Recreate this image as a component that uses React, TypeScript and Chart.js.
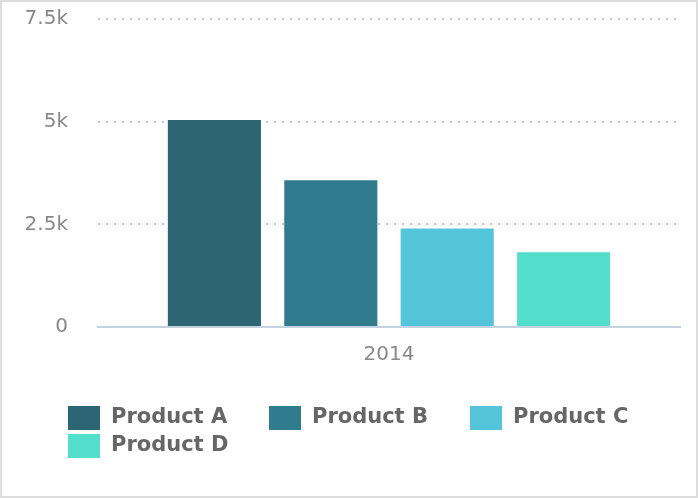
import React, { useEffect, useRef } from "react";
import { Chart, registerables } from "chart.js";

Chart.register(...registerables);

const categories = ["2014"];
const seriesNames = ["Product A", "Product B", "Product C", "Product D"];
const productA = [5040];
const productB = [3575];
const productC = [2400];
const productD = [1820];
const seriesColors = ["#2c6674", "#317b8f", "#54c4da", "#54decc"];
const yTickValues = [0, 2500, 5000, 7500];

const FONT = "'DejaVu Sans', Verdana, sans-serif";

const gridLegendPlugin = {
  id: "gridLegend",
  afterDraw(chart: any) {
    const ctx = chart.ctx;
    const datasets = chart.data.datasets;
    const startX = 66;
    const startY = 404;
    const colW = 201;
    const rowH = 28;
    const perRow = 3;
    ctx.save();
    ctx.font = `bold 21px ${FONT}`;
    ctx.textBaseline = "middle";
    ctx.textAlign = "left";
    datasets.forEach((ds: any, i: number) => {
      const col = i % perRow;
      const row = Math.floor(i / perRow);
      const x = startX + col * colW;
      const y = startY + row * rowH;
      ctx.fillStyle = ds.backgroundColor;
      ctx.fillRect(x, y, 32, 24);
      ctx.fillStyle = "#666666";
      ctx.fillText(ds.label, x + 43, y + 12);
    });
    ctx.restore();
  },
};

export default function App() {
  const canvasRef = useRef<HTMLCanvasElement | null>(null);

  useEffect(() => {
    const canvas = canvasRef.current;
    if (!canvas) return;
    const seriesValues = [productA, productB, productC, productD];
    const chart = new Chart(canvas, {
      type: "bar",
      data: {
        labels: categories,
        datasets: seriesNames.map((name, i) => ({
          label: name,
          data: seriesValues[i],
          backgroundColor: seriesColors[i],
          borderWidth: 0,
          barPercentage: 0.8,
          categoryPercentage: 0.8,
        })),
      },
      options: {
        animation: false,
        responsive: false,
        maintainAspectRatio: false,
        layout: {
          padding: { top: 17, left: 0, right: 16, bottom: 129 },
        },
        plugins: {
          legend: { display: false },
          tooltip: { enabled: false },
        },
        scales: {
          x: {
            grid: { display: false, drawTicks: false },
            border: { display: true, color: "#c3d3e1", width: 2 },
            ticks: {
              color: "#888888",
              font: { family: FONT, size: 20 },
              padding: 16,
            },
            afterFit: (s: any) => {
              s.height = 40;
              s.paddingLeft = 0;
              s.paddingRight = 0;
            },
          },
          y: {
            min: 0,
            max: 7500,
            afterBuildTicks: (axis: any) => {
              axis.ticks = yTickValues.map((v) => ({ value: v }));
            },
            afterFit: (s: any) => {
              s.width = 96;
              s.paddingTop = 0;
              s.paddingBottom = 0;
            },
            grid: {
              drawTicks: false,
              lineWidth: 2,
              color: (c: any) => (c.tick && c.tick.value === 0 ? "rgba(0,0,0,0)" : "#c4c4c4"),
            },
            border: { display: false, dash: [2, 6] },
            ticks: {
              color: "#888888",
              font: { family: FONT, size: 20 },
              padding: 30,
              callback: (v: any) => (Number(v) === 0 ? "0" : `${Number(v) / 1000}k`),
            },
          },
        },
      },
      plugins: [gridLegendPlugin],
    });
    return () => chart.destroy();
  }, []);

  return (
    <div
      style={{
        position: "absolute",
        left: 0,
        top: 0,
        width: 698,
        height: 498,
        boxSizing: "border-box",
        border: "2px solid #dddddd",
        background: "#ffffff",
      }}
    >
      <canvas ref={canvasRef} width={694} height={494} style={{ display: "block" }} />
    </div>
  );
}
